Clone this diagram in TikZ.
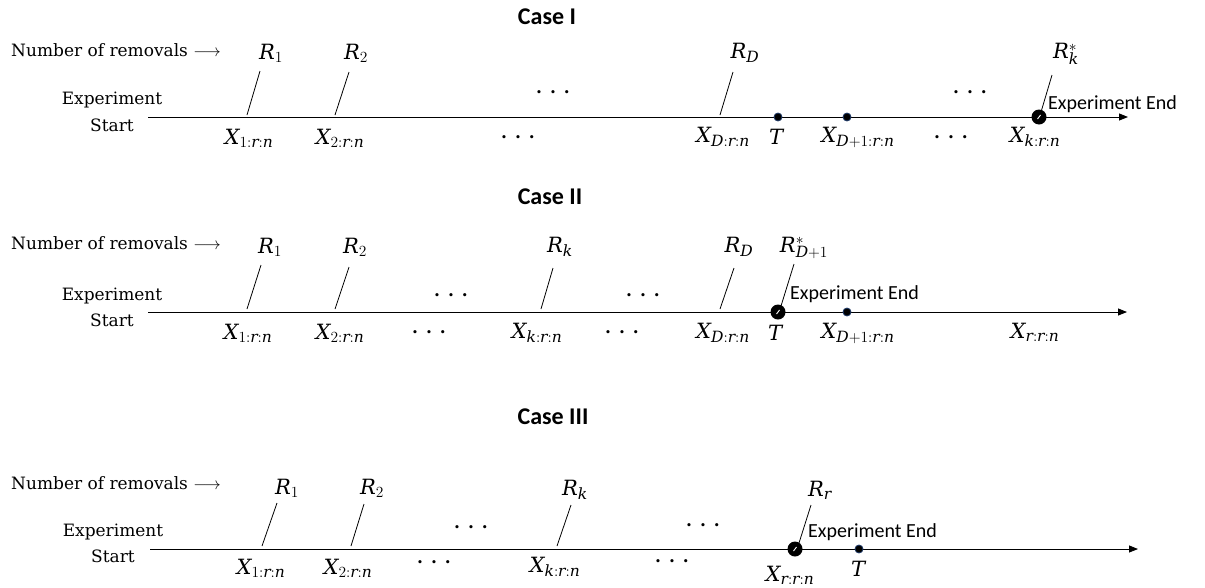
\RequirePackage{fix-cm}
\documentclass[tikz,border=0pt]{standalone}
\usepackage{fontspec}
\newfontfamily\calibri{Carlito}
\newfontfamily\djs{DejaVu Serif}[NFSSFamily=djserif]
\DeclareSymbolFont{letters}{TU}{djserif}{m}{it}
\DeclareSymbolFont{operators}{TU}{djserif}{m}{n}
\DeclareMathSizes{21}{21}{15.5}{12}
\usetikzlibrary{arrows.meta}
\definecolor{navy}{HTML}{1F3A68}
\tikzset{
  axisline/.style={line width=0.9pt, -{Triangle[length=9pt,width=7pt]}},
  slashline/.style={line width=0.8pt},
  mlbl/.style={font=\fontsize{21}{24}\selectfont, inner sep=0pt},
  txt/.style={font=\djs\fontsize{17}{20}\selectfont, inner sep=0pt},
  casetitle/.style={font=\calibri\bfseries\fontsize{24}{28}\selectfont, inner sep=0pt},
  endlbl/.style={font=\calibri\fontsize{20}{24}\selectfont, inner sep=0pt, anchor=west},
  tdot/.style={circle, fill=black, draw=navy, line width=0.8pt, minimum size=8pt, inner sep=0pt},
  bigdot/.style={circle, fill=black, minimum size=15pt, inner sep=0pt,
    path picture={\draw[white,line width=0.9pt]
      ([xshift=-1.5pt,yshift=-2pt]path picture bounding box.center) --
      ([xshift=1.5pt,yshift=2pt]path picture bounding box.center);}},
  dotsn/.style={font=\djs\bfseries\fontsize{17}{20}\selectfont, inner sep=0pt},
}
\newcommand{\mydots}{.\hspace{8pt}.\hspace{8pt}.}
\begin{document}
\begin{tikzpicture}[x=1pt,y=-1pt]
\useasboundingbox (0,0) rectangle (1205,587);

% ================= Case I =================
\node[casetitle] (t1) at (547,17) {Case I};
\node[txt, anchor=west] (n1) at (11,50) {Number of removals $\longrightarrow$};
\node[txt] (ex1) at (112,100) {Experiment};
\node[txt] (st1) at (112,125) {Start};
\coordinate (a1s) at (148,117);
\coordinate (a1e) at (1128,117);
\draw[axisline] (a1s) -- (a1e);

\node[mlbl] (r11) at (271,53) {$R_1$};
\coordinate (r11t) at (260,71); \coordinate (r11b) at (247,115);
\draw[slashline] (r11t) -- (r11b);
\node[mlbl] (x11) at (249,138) {$X_{1:r:n}$};

\node[mlbl] (r12) at (356,53) {$R_2$};
\coordinate (r12t) at (349,72); \coordinate (r12b) at (335,115);
\draw[slashline] (r12t) -- (r12b);
\node[mlbl] (x12) at (340,138) {$X_{2:r:n}$};

\node[dotsn] (d1a) at (553,92) {\mydots};
\node[dotsn] (d1b) at (518,137) {\mydots};

\node[mlbl] (r1D) at (745,53) {$R_D$};
\coordinate (r1Dt) at (733,72); \coordinate (r1Db) at (720,115);
\draw[slashline] (r1Dt) -- (r1Db);
\node[mlbl] (x1D) at (723,137) {$X_{D:r:n}$};

\node[tdot] (T1) at (778,117) {};
\node[mlbl] (T1l) at (776,137) {$T$};
\node[tdot] (p1) at (847,117) {};
\node[mlbl] (x1D1) at (858,137) {$X_{D+1:r:n}$};

\node[dotsn] (d1c) at (970,92) {\mydots};
\node[dotsn] (d1d) at (951,137) {\mydots};

\node[mlbl] (r1k) at (1066,54) {$R_k^{*}$};
\coordinate (r1kt) at (1052,75); \coordinate (r1kb) at (1041,112);
\draw[slashline] (r1kt) -- (r1kb);
\node[bigdot] (K1) at (1039,117) {};
\node[endlbl] (end1) at (1048,104) {Experiment End};
\node[mlbl] (x1k) at (1035,137) {$X_{k:r:n}$};

% ================= Case II =================
\node[casetitle] (t2) at (550,197) {Case II};
\node[txt, anchor=west] (n2) at (11,243) {Number of removals $\longrightarrow$};
\node[txt] (ex2) at (112,296) {Experiment};
\node[txt] (st2) at (112,320) {Start};
\coordinate (a2s) at (148,312);
\coordinate (a2e) at (1127,312);
\draw[axisline] (a2s) -- (a2e);

\node[mlbl] (r21) at (270,247) {$R_1$};
\coordinate (r21t) at (261,265); \coordinate (r21b) at (247,309);
\draw[slashline] (r21t) -- (r21b);
\node[mlbl] (x21) at (248,333) {$X_{1:r:n}$};

\node[mlbl] (r22) at (355,247) {$R_2$};
\coordinate (r22t) at (349,267); \coordinate (r22b) at (335,309);
\draw[slashline] (r22t) -- (r22b);
\node[mlbl] (x22) at (340,333) {$X_{2:r:n}$};

\node[dotsn] (d2a) at (451,295) {\mydots};
\node[dotsn] (d2b) at (429,332) {\mydots};

\node[mlbl] (r2k) at (560,247) {$R_k$};
\coordinate (r2kt) at (553,268); \coordinate (r2kb) at (541,309);
\draw[slashline] (r2kt) -- (r2kb);
\node[mlbl] (x2k) at (537,333) {$X_{k:r:n}$};

\node[dotsn] (d2c) at (643,295) {\mydots};
\node[dotsn] (d2d) at (622,332) {\mydots};

\node[mlbl] (r2D) at (739,247) {$R_D$};
\coordinate (r2Dt) at (734,268); \coordinate (r2Db) at (720,309);
\draw[slashline] (r2Dt) -- (r2Db);
\node[mlbl] (x2D) at (723,333) {$X_{D:r:n}$};

\node[mlbl] (r2s) at (804,248) {$R_{D+1}^{*}$};
\coordinate (r2st) at (794,264); \coordinate (r2sb) at (781,306);
\draw[slashline] (r2st) -- (r2sb);
\node[bigdot] (K2) at (778,312) {};
\node[endlbl] (end2) at (790,294) {Experiment End};
\node[mlbl] (T2l) at (775,333) {$T$};

\node[tdot] (p2) at (847,312) {};
\node[mlbl] (x2D1) at (858,333) {$X_{D+1:r:n}$};
\node[mlbl] (x2r) at (1035,332) {$X_{r:r:n}$};

% ================= Case III =================
\node[casetitle] (t3) at (553,417) {Case III};
\node[txt, anchor=west] (n3) at (11,483) {Number of removals $\longrightarrow$};
\node[txt] (ex3) at (113,532) {Experiment};
\node[txt] (st3) at (113,556) {Start};
\coordinate (a3s) at (150,549);
\coordinate (a3e) at (1138,549);
\draw[axisline] (a3s) -- (a3e);

\node[mlbl] (r31) at (287,488) {$R_1$};
\coordinate (r31t) at (277,503); \coordinate (r31b) at (262,546);
\draw[slashline] (r31t) -- (r31b);
\node[mlbl] (x31) at (261,568) {$X_{1:r:n}$};

\node[mlbl] (r32) at (372,488) {$R_2$};
\coordinate (r32t) at (364,504); \coordinate (r32b) at (351,546);
\draw[slashline] (r32t) -- (r32b);
\node[mlbl] (x32) at (348,568) {$X_{2:r:n}$};

\node[dotsn] (d3a) at (471,527) {\mydots};
\node[dotsn] (d3b) at (434,562) {\mydots};

\node[mlbl] (r3k) at (575,490) {$R_k$};
\coordinate (r3kt) at (571,505); \coordinate (r3kb) at (557,546);
\draw[slashline] (r3kt) -- (r3kb);
\node[mlbl] (x3k) at (555,567) {$X_{k:r:n}$};

\node[dotsn] (d3c) at (703,525) {\mydots};
\node[dotsn] (d3d) at (672,561) {\mydots};

\node[mlbl] (r3r) at (820,490) {$R_r$};
\coordinate (r3rt) at (811,505); \coordinate (r3rb) at (799,543);
\draw[slashline] (r3rt) -- (r3rb);
\node[bigdot] (K3) at (795,549) {};
\node[endlbl] (end3) at (808,532) {Experiment End};
\node[mlbl] (x3r) at (790,575) {$X_{r:r:n}$};

\node[tdot] (T3) at (859,549) {};
\node[mlbl] (T3l) at (858,569) {$T$};
\end{tikzpicture}
\end{document}
